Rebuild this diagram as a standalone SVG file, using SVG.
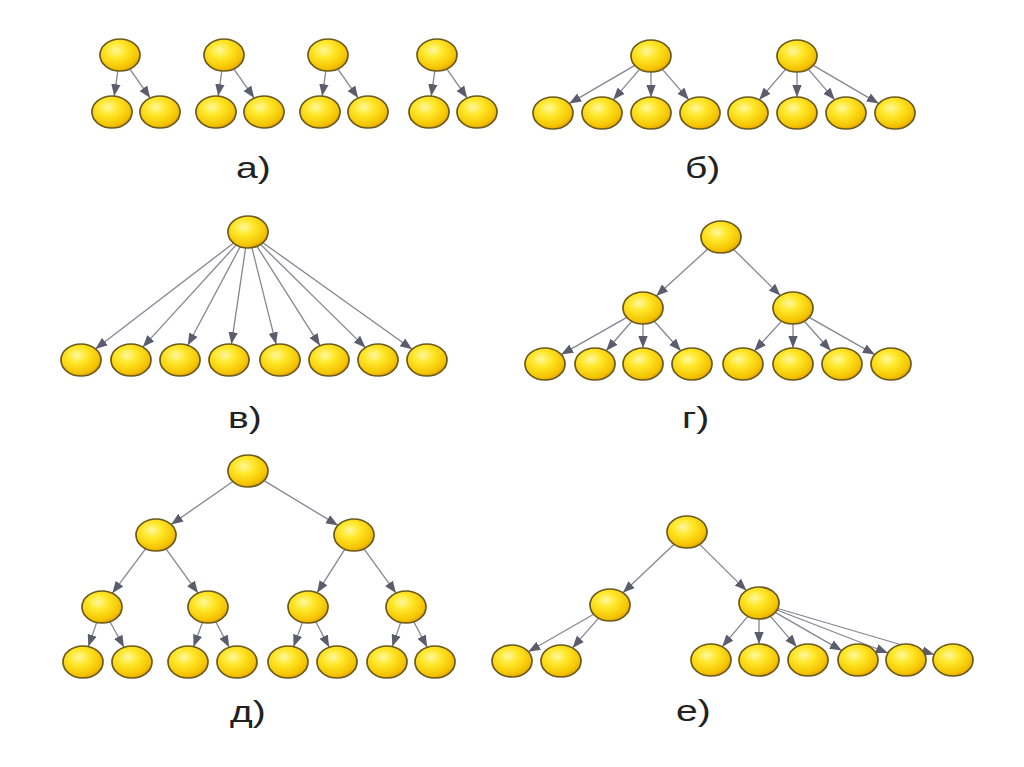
<svg xmlns="http://www.w3.org/2000/svg" width="1024" height="767" viewBox="0 0 1024 767">
<defs>
<radialGradient id="gold" cx="0.4" cy="0.35" r="0.7">
<stop offset="0" stop-color="#fff7a0"/>
<stop offset="0.35" stop-color="#ffe82a"/>
<stop offset="0.8" stop-color="#f5c400"/>
<stop offset="1" stop-color="#df9c00"/>
</radialGradient>
<marker id="ah" markerUnits="userSpaceOnUse" markerWidth="12" markerHeight="11" viewBox="0 0 12 11" refX="12" refY="5.5" orient="auto">
<path d="M0,0.8 L12,5.5 L0,10.2 z" fill="#5c5c6c"/>
</marker>
</defs>
<style>
.n{fill:url(#gold);stroke:#6a5a1c;stroke-width:1.7}
.c path{fill:none;stroke:#858595;stroke-width:1.3;marker-end:url(#ah)}
.lbl{font-family:"Liberation Sans",Arial,sans-serif;font-size:30px;fill:#222222}
</style>
<rect width="1024" height="767" fill="#ffffff"/>

<g id="connectors" class="c">
<!-- a -->
<g transform="translate(120,55)"><path d="M-2.2,15.9 L-5.8,41.1"/><path d="M9.8,13.9 L30.2,43.1"/></g>
<g transform="translate(224,55)"><path d="M-2.2,15.9 L-5.8,41.1"/><path d="M9.8,13.9 L30.2,43.1"/></g>
<g transform="translate(328,55)"><path d="M-2.2,15.9 L-5.8,41.1"/><path d="M9.8,13.9 L30.2,43.1"/></g>
<g transform="translate(437,55)"><path d="M-2.2,15.9 L-5.8,41.1"/><path d="M9.8,13.9 L30.2,43.1"/></g>
<!-- b -->
<g transform="translate(651,56)"><path d="M-16.2,9.4 L-81.8,47.6"/><path d="M-11.3,13.2 L-37.7,43.8"/><path d="M0,16 L0,41"/><path d="M11.3,13.2 L37.7,43.8"/></g>
<g transform="translate(797,56)"><path d="M-11.3,13.2 L-37.7,43.8"/><path d="M0,16 L0,41"/><path d="M11.3,13.2 L37.7,43.8"/><path d="M16.2,9.4 L81.8,47.6"/></g>
<!-- v -->
<path d="M233.6,243.1 L95.4,348.9"/>
<path d="M236.2,244.9 L142.8,347.1"/>
<path d="M240.2,246.7 L187.8,345.3"/>
<path d="M245.6,247.9 L231.4,344.1"/>
<path d="M251.9,247.7 L276.1,344.3"/>
<path d="M257.0,246.3 L320.0,345.7"/>
<path d="M260.6,244.4 L365.4,347.6"/>
<path d="M262.9,242.7 L412.1,349.3"/>
<!-- g -->
<path d="M707.8,249.0 L656.2,296.0"/>
<path d="M733.6,249.4 L780.4,295.6"/>
<g transform="translate(643,308)"><path d="M-16.2,9.4 L-81.8,46.6"/><path d="M-11.2,13.2 L-36.8,42.8"/><path d="M0,16 L0,40"/><path d="M11.3,13.2 L37.7,42.8"/></g>
<g transform="translate(793,308)"><path d="M-11.4,13.1 L-38.6,42.9"/><path d="M0,16 L0,40"/><path d="M11.3,13.2 L37.7,42.8"/><path d="M16.2,9.4 L81.8,46.6"/></g>
<!-- d -->
<path d="M232.9,481.5 L171.1,524.5"/>
<path d="M264.0,480.6 L338.0,525.4"/>
<path d="M145.7,548.7 L112.3,593.3"/>
<path d="M166.0,548.9 L198.0,593.1"/>
<path d="M344.9,549.2 L317.1,592.8"/>
<path d="M364.0,548.9 L396.0,593.1"/>
<path d="M96.7,622.4 L88.3,646.6"/>
<path d="M110.0,621.7 L124.0,647.3"/>
<path d="M202.5,622.3 L193.5,646.7"/>
<path d="M215.8,621.8 L229.2,647.2"/>
<path d="M302.5,622.3 L293.5,646.7"/>
<path d="M315.8,621.8 L329.2,647.2"/>
<path d="M400.7,622.4 L392.3,646.6"/>
<path d="M413.8,621.8 L427.2,647.2"/>
<!-- e -->
<path d="M674.1,544.2 L622.9,592.8"/>
<path d="M699.6,544.4 L746.4,590.6"/>
<path d="M593.7,614.3 L528.3,651.7"/>
<path d="M598.5,618.1 L572.5,647.9"/>
<path d="M747.8,616.3 L722.2,646.7"/>
<path d="M759,619 L759,644"/>
<path d="M770.3,616.2 L796.7,646.8"/>
<path d="M775.2,612.4 L841.8,650.6"/>
<path d="M777.0,610.0 L888.0,653.0"/>
<path d="M777.8,608.5 L934.2,654.5"/>
</g>

<!-- a nodes -->
<g id="a1-root"><ellipse class="n" cx="120" cy="55" rx="20" ry="16"/></g>
<g id="a1-c1"><ellipse class="n" cx="112" cy="112" rx="20" ry="16"/></g>
<g id="a1-c2"><ellipse class="n" cx="160" cy="112" rx="20" ry="16"/></g>
<g id="a2-root"><ellipse class="n" cx="224" cy="55" rx="20" ry="16"/></g>
<g id="a2-c1"><ellipse class="n" cx="216" cy="112" rx="20" ry="16"/></g>
<g id="a2-c2"><ellipse class="n" cx="264" cy="112" rx="20" ry="16"/></g>
<g id="a3-root"><ellipse class="n" cx="328" cy="55" rx="20" ry="16"/></g>
<g id="a3-c1"><ellipse class="n" cx="320" cy="112" rx="20" ry="16"/></g>
<g id="a3-c2"><ellipse class="n" cx="368" cy="112" rx="20" ry="16"/></g>
<g id="a4-root"><ellipse class="n" cx="437" cy="55" rx="20" ry="16"/></g>
<g id="a4-c1"><ellipse class="n" cx="429" cy="112" rx="20" ry="16"/></g>
<g id="a4-c2"><ellipse class="n" cx="477" cy="112" rx="20" ry="16"/></g>

<!-- b nodes -->
<g id="b1-root"><ellipse class="n" cx="651" cy="56" rx="20" ry="16"/></g>
<g id="b1-c1"><ellipse class="n" cx="553" cy="113" rx="20" ry="16"/></g>
<g id="b1-c2"><ellipse class="n" cx="602" cy="113" rx="20" ry="16"/></g>
<g id="b1-c3"><ellipse class="n" cx="651" cy="113" rx="20" ry="16"/></g>
<g id="b1-c4"><ellipse class="n" cx="700" cy="113" rx="20" ry="16"/></g>
<g id="b2-root"><ellipse class="n" cx="797" cy="56" rx="20" ry="16"/></g>
<g id="b2-c1"><ellipse class="n" cx="748" cy="113" rx="20" ry="16"/></g>
<g id="b2-c2"><ellipse class="n" cx="797" cy="113" rx="20" ry="16"/></g>
<g id="b2-c3"><ellipse class="n" cx="846" cy="113" rx="20" ry="16"/></g>
<g id="b2-c4"><ellipse class="n" cx="895" cy="113" rx="20" ry="16"/></g>

<!-- v nodes -->
<g id="v-root"><ellipse class="n" cx="248" cy="232" rx="20" ry="16"/></g>
<g id="v-c1"><ellipse class="n" cx="81" cy="360" rx="20" ry="16"/></g>
<g id="v-c2"><ellipse class="n" cx="131" cy="360" rx="20" ry="16"/></g>
<g id="v-c3"><ellipse class="n" cx="180" cy="360" rx="20" ry="16"/></g>
<g id="v-c4"><ellipse class="n" cx="229" cy="360" rx="20" ry="16"/></g>
<g id="v-c5"><ellipse class="n" cx="280" cy="360" rx="20" ry="16"/></g>
<g id="v-c6"><ellipse class="n" cx="329" cy="360" rx="20" ry="16"/></g>
<g id="v-c7"><ellipse class="n" cx="378" cy="360" rx="20" ry="16"/></g>
<g id="v-c8"><ellipse class="n" cx="427" cy="360" rx="20" ry="16"/></g>

<!-- g nodes -->
<g id="g-root"><ellipse class="n" cx="721" cy="237" rx="20" ry="16"/></g>
<g id="g-m1"><ellipse class="n" cx="643" cy="308" rx="20" ry="16"/></g>
<g id="g-m2"><ellipse class="n" cx="793" cy="308" rx="20" ry="16"/></g>
<g id="g-l1"><ellipse class="n" cx="545" cy="364" rx="20" ry="16"/></g>
<g id="g-l2"><ellipse class="n" cx="595" cy="364" rx="20" ry="16"/></g>
<g id="g-l3"><ellipse class="n" cx="643" cy="364" rx="20" ry="16"/></g>
<g id="g-l4"><ellipse class="n" cx="692" cy="364" rx="20" ry="16"/></g>
<g id="g-l5"><ellipse class="n" cx="743" cy="364" rx="20" ry="16"/></g>
<g id="g-l6"><ellipse class="n" cx="793" cy="364" rx="20" ry="16"/></g>
<g id="g-l7"><ellipse class="n" cx="842" cy="364" rx="20" ry="16"/></g>
<g id="g-l8"><ellipse class="n" cx="891" cy="364" rx="20" ry="16"/></g>

<!-- d nodes -->
<g id="d-root"><ellipse class="n" cx="248" cy="471" rx="20" ry="16"/></g>
<g id="d-m1"><ellipse class="n" cx="156" cy="535" rx="20" ry="16"/></g>
<g id="d-m2"><ellipse class="n" cx="354" cy="535" rx="20" ry="16"/></g>
<g id="d-k1"><ellipse class="n" cx="102" cy="607" rx="20" ry="16"/></g>
<g id="d-k2"><ellipse class="n" cx="208" cy="607" rx="20" ry="16"/></g>
<g id="d-k3"><ellipse class="n" cx="308" cy="607" rx="20" ry="16"/></g>
<g id="d-k4"><ellipse class="n" cx="406" cy="607" rx="20" ry="16"/></g>
<g id="d-l1"><ellipse class="n" cx="83" cy="662" rx="20" ry="16"/></g>
<g id="d-l2"><ellipse class="n" cx="132" cy="662" rx="20" ry="16"/></g>
<g id="d-l3"><ellipse class="n" cx="188" cy="662" rx="20" ry="16"/></g>
<g id="d-l4"><ellipse class="n" cx="237" cy="662" rx="20" ry="16"/></g>
<g id="d-l5"><ellipse class="n" cx="288" cy="662" rx="20" ry="16"/></g>
<g id="d-l6"><ellipse class="n" cx="337" cy="662" rx="20" ry="16"/></g>
<g id="d-l7"><ellipse class="n" cx="387" cy="662" rx="20" ry="16"/></g>
<g id="d-l8"><ellipse class="n" cx="435" cy="662" rx="20" ry="16"/></g>

<!-- e nodes -->
<g id="e-root"><ellipse class="n" cx="687" cy="532" rx="20" ry="16"/></g>
<g id="e-m1"><ellipse class="n" cx="610" cy="605" rx="20" ry="16"/></g>
<g id="e-m2"><ellipse class="n" cx="759" cy="603" rx="20" ry="16"/></g>
<g id="e-l1"><ellipse class="n" cx="512" cy="661" rx="20" ry="16"/></g>
<g id="e-l2"><ellipse class="n" cx="561" cy="661" rx="20" ry="16"/></g>
<g id="e-r1"><ellipse class="n" cx="711" cy="660" rx="20" ry="16"/></g>
<g id="e-r2"><ellipse class="n" cx="759" cy="660" rx="20" ry="16"/></g>
<g id="e-r3"><ellipse class="n" cx="808" cy="660" rx="20" ry="16"/></g>
<g id="e-r4"><ellipse class="n" cx="858" cy="660" rx="20" ry="16"/></g>
<g id="e-r5"><ellipse class="n" cx="906" cy="660" rx="20" ry="16"/></g>
<g id="e-r6"><ellipse class="n" cx="953" cy="660" rx="20" ry="16"/></g>

<!-- labels -->
<text class="lbl" transform="translate(236,178) scale(1.3,1)">а)</text>
<text class="lbl" transform="translate(685,178) scale(1.3,1)">б)</text>
<text class="lbl" transform="translate(228,428) scale(1.3,1)">в)</text>
<text class="lbl" transform="translate(682,428) scale(1.3,1)">г)</text>
<text class="lbl" transform="translate(230,722) scale(1.3,1)">д)</text>
<text class="lbl" transform="translate(676,721) scale(1.3,1)">е)</text>
</svg>
